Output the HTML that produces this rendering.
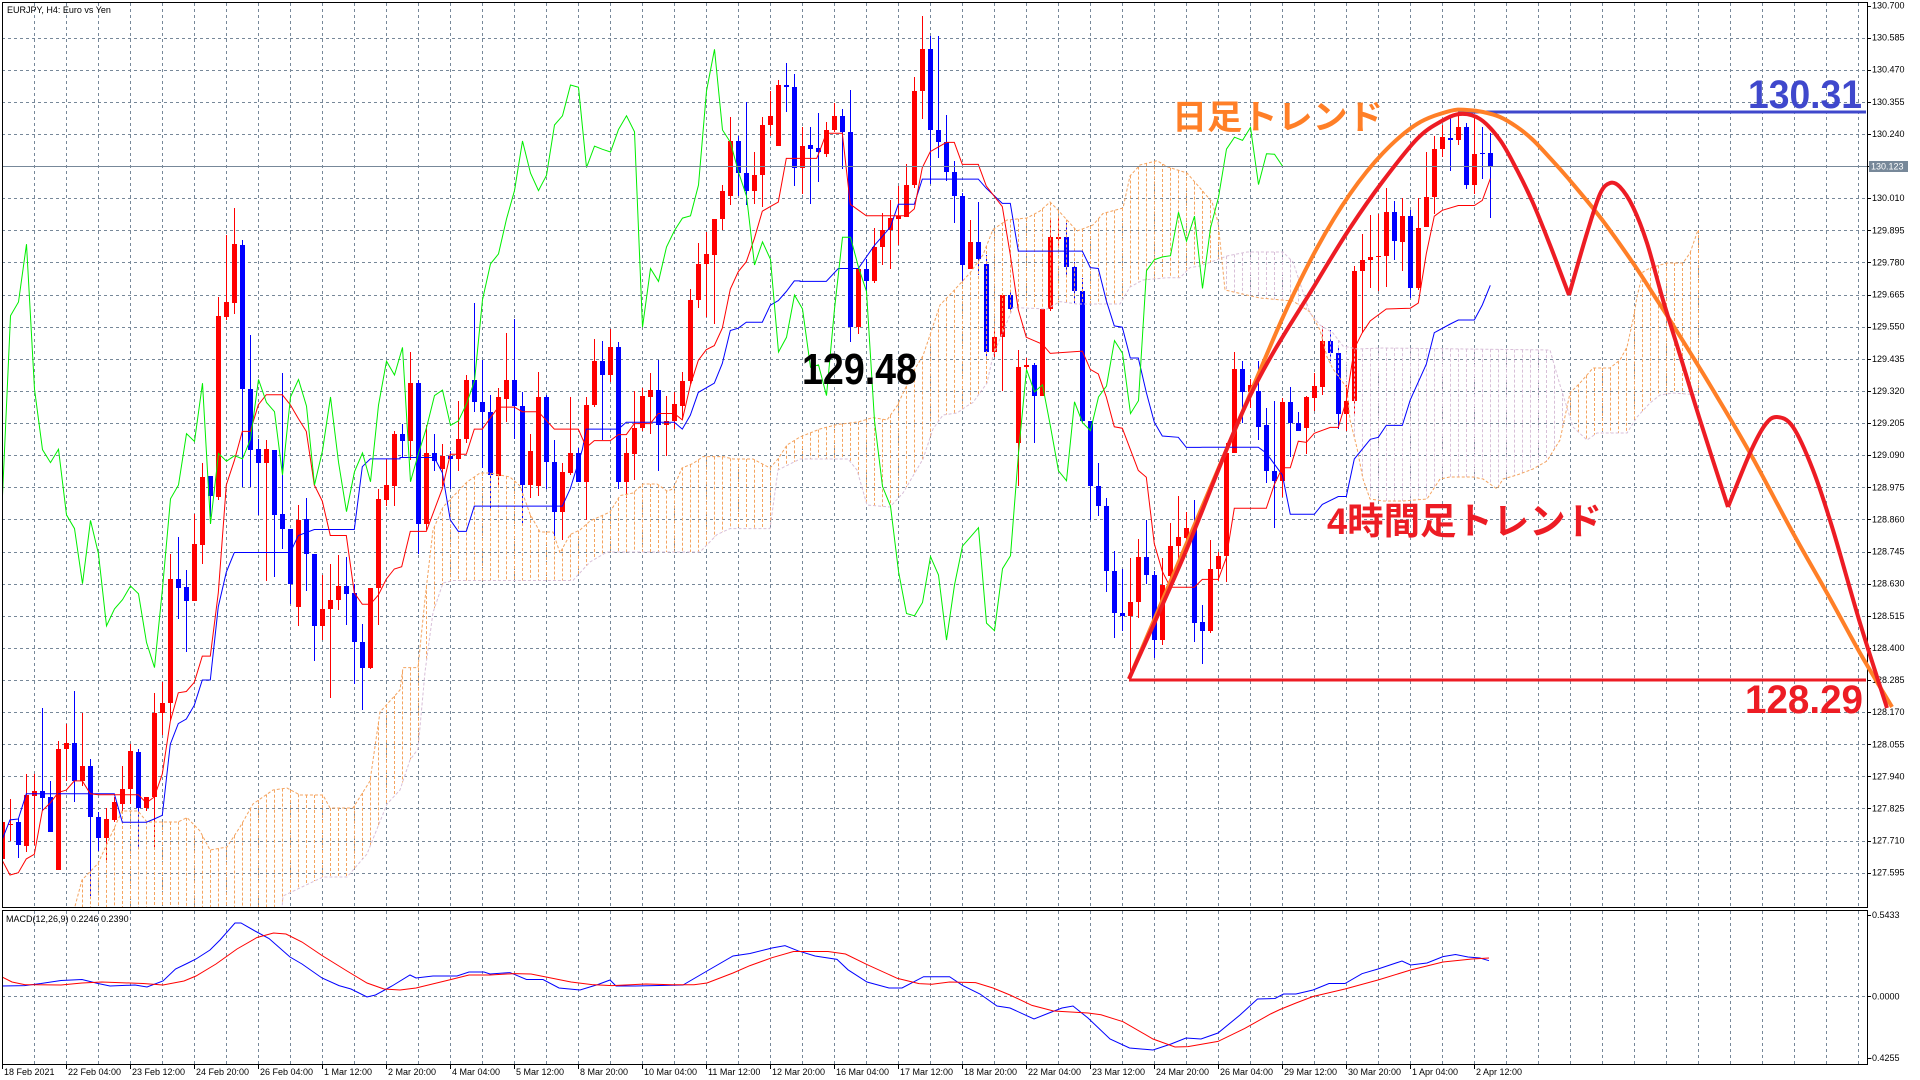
<!DOCTYPE html>
<html><head><meta charset="utf-8"><style>
html,body{margin:0;padding:0;background:#fff;width:1920px;height:1080px;overflow:hidden}
svg{display:block}
.s{font-family:"Liberation Sans",Arial,sans-serif;font-size:9px;fill:#000}
</style></head><body>
<svg id="c" width="1920" height="1080" xmlns="http://www.w3.org/2000/svg">
<defs>
<clipPath id="mc"><rect x="2" y="2" width="1865" height="905"/></clipPath>
<clipPath id="md"><rect x="2" y="910" width="1865" height="154"/></clipPath>
</defs>
<rect x="0" y="0" width="1920" height="1080" fill="#fff"/>
<g id="grid"></g>
<g id="cand" clip-path="url(#mc)" shape-rendering="crispEdges"></g>
<g id="ind" clip-path="url(#mc)"></g>
<g id="macd" clip-path="url(#md)"></g>
<line x1="2" y1="166.5" x2="1867" y2="166.5" stroke="#778899" stroke-width="1"/>
<g fill="none" stroke="#000" stroke-width="1" shape-rendering="crispEdges">
<path d="M2.5 2.5H1867.5V907.5H2.5Z"/>
<path d="M2.5 910.5H1867.5V1064.5H2.5Z"/>
</g>
<g id="ticks" stroke="#000" stroke-width="1" shape-rendering="crispEdges"></g>
<text class="s" x="7" y="13">EURJPY, H4:  Euro vs Yen</text>
<text class="s" x="6" y="922">MACD(12,26,9) 0.2246 0.2390</text>
<g class="s">
<text class="s" x="1872" y="8.5">130.700</text>
<text class="s" x="1872" y="40.6">130.585</text>
<text class="s" x="1872" y="72.7">130.470</text>
<text class="s" x="1872" y="104.9">130.355</text>
<text class="s" x="1872" y="137">130.240</text>
<text class="s" x="1872" y="201.2">130.010</text>
<text class="s" x="1872" y="233.3">129.895</text>
<text class="s" x="1872" y="265.5">129.780</text>
<text class="s" x="1872" y="297.6">129.665</text>
<text class="s" x="1872" y="329.7">129.550</text>
<text class="s" x="1872" y="361.8">129.435</text>
<text class="s" x="1872" y="393.9">129.320</text>
<text class="s" x="1872" y="426.1">129.205</text>
<text class="s" x="1872" y="458.2">129.090</text>
<text class="s" x="1872" y="490.3">128.975</text>
<text class="s" x="1872" y="522.4">128.860</text>
<text class="s" x="1872" y="554.5">128.745</text>
<text class="s" x="1872" y="586.7">128.630</text>
<text class="s" x="1872" y="618.8">128.515</text>
<text class="s" x="1872" y="650.9">128.400</text>
<text class="s" x="1872" y="683">128.285</text>
<text class="s" x="1872" y="715.1">128.170</text>
<text class="s" x="1872" y="747.3">128.055</text>
<text class="s" x="1872" y="779.4">127.940</text>
<text class="s" x="1872" y="811.5">127.825</text>
<text class="s" x="1872" y="843.6">127.710</text>
<text class="s" x="1872" y="875.7">127.595</text>
<text class="s" x="1872" y="918">0.5433</text>
<text class="s" x="1872" y="999.5">0.0000</text>
<text class="s" x="1869" y="1061">-0.4255</text>
</g>
<rect x="1869" y="161" width="39" height="11" fill="#778899"/>
<text class="s" x="1871" y="169.5" style="fill:#fff">130.123</text>
<g>
<text class="s" x="4" y="1075">18 Feb 2021</text>
<text class="s" x="68" y="1075">22 Feb 04:00</text>
<text class="s" x="132" y="1075">23 Feb 12:00</text>
<text class="s" x="196" y="1075">24 Feb 20:00</text>
<text class="s" x="260" y="1075">26 Feb 04:00</text>
<text class="s" x="324" y="1075">1 Mar 12:00</text>
<text class="s" x="388" y="1075">2 Mar 20:00</text>
<text class="s" x="452" y="1075">4 Mar 04:00</text>
<text class="s" x="516" y="1075">5 Mar 12:00</text>
<text class="s" x="580" y="1075">8 Mar 20:00</text>
<text class="s" x="644" y="1075">10 Mar 04:00</text>
<text class="s" x="708" y="1075">11 Mar 12:00</text>
<text class="s" x="772" y="1075">12 Mar 20:00</text>
<text class="s" x="836" y="1075">16 Mar 04:00</text>
<text class="s" x="900" y="1075">17 Mar 12:00</text>
<text class="s" x="964" y="1075">18 Mar 20:00</text>
<text class="s" x="1028" y="1075">22 Mar 04:00</text>
<text class="s" x="1092" y="1075">23 Mar 12:00</text>
<text class="s" x="1156" y="1075">24 Mar 20:00</text>
<text class="s" x="1220" y="1075">26 Mar 04:00</text>
<text class="s" x="1284" y="1075">29 Mar 12:00</text>
<text class="s" x="1348" y="1075">30 Mar 20:00</text>
<text class="s" x="1412" y="1075">1 Apr 04:00</text>
<text class="s" x="1476" y="1075">2 Apr 12:00</text>
</g>
<g id="trend"></g>
<text x="802" y="384" font-family="Liberation Sans, Arial, sans-serif" font-weight="bold" font-size="44" fill="#000" textLength="115" lengthAdjust="spacingAndGlyphs">129.48</text>
<text x="1748" y="108" font-family="Liberation Sans, Arial, sans-serif" font-weight="bold" font-size="40" fill="#3f48cc" textLength="114" lengthAdjust="spacingAndGlyphs">130.31</text>
<text x="1745" y="713" font-family="Liberation Sans, Arial, sans-serif" font-weight="bold" font-size="40" fill="#ed1c24" textLength="118" lengthAdjust="spacingAndGlyphs">128.29</text>
<text x="1172" y="129" font-family="Liberation Sans, Noto Sans CJK JP, sans-serif" font-weight="bold" font-size="34" fill="#ff7f27" textLength="211" lengthAdjust="spacingAndGlyphs">日足トレンド</text>
<text x="1327" y="534" font-family="Liberation Sans, Noto Sans CJK JP, sans-serif" font-weight="bold" font-size="37" fill="#ed1c24" textLength="275" lengthAdjust="spacingAndGlyphs">4時間足トレンド</text>
</svg>
<script>
(function(){
const NS='http://www.w3.org/2000/svg';
function el(p,t,a){const e=document.createElementNS(NS,t);for(const k in a)e.setAttribute(k,a[k]);p.appendChild(e);return e;}
const G=id=>document.getElementById(id);
// grid
let d='';
for(let i=1;i<=27;i++){const y=Math.round(5.5+32.12*i)+0.5;d+='M2 '+y+'H1867';}
d+='M2 996.5H1867';
for(let k=0;k<=57;k++){const x=34+32*k+0.5;d+='M'+x+' 3V907M'+x+' 911V1064';}
el(G('grid'),'path',{d:d,stroke:'#778899','stroke-width':1,'stroke-dasharray':'3,3',fill:'none','shape-rendering':'crispEdges'});
// ticks
let t='';
for(let i=0;i<=27;i++){const y=Math.round(5.5+32.12*i)+0.5;t+='M1867 '+y+'H1871';}
t+='M1867 915.5H1871M1867 996.5H1871M1867 1058.5H1871';
for(let i=0;i<24;i++){const x=(i==0?2:66+64*(i-1))+0.5;t+='M'+x+' 1064V1069';}
el(G('ticks'),'path',{d:t,fill:'none'});
// candles
const c5=[[1,1400,1480,1400,1480],[1,1403,1407,1350,1440],[0,1400,1450,1390,1478],[1,1340,1452,1295,1465],[1,1333,1342,1295,1450],[0,1333,1347,1152,1375],[0,1345,1422,1310,1422],[1,1240,1505,1222,1505],[1,1228,1240,1185,1310],[0,1228,1310,1115,1355],[1,1278,1310,1162,1322],[0,1278,1388,1262,1560],[0,1388,1435,1378,1462],[1,1392,1435,1370,1490],[1,1355,1395,1345,1400],[1,1327,1360,1278,1375],[1,1245,1328,1230,1360],[0,1248,1370,1240,1455],[1,1345,1370,1345,1375],[1,1162,1345,1118,1455],[1,1140,1162,1095,1210],[1,870,1140,815,1180],[0,870,890,778,958],[0,888,918,850,1030],[1,793,918,728,918],[1,647,795,617,838],[0,646,688,646,735],[1,296,690,255,698],[1,266,298,120,306],[1,140,268,62,293],[0,142,456,130,670],[0,456,588,338,670],[0,587,616,565,730],[1,587,616,567,875],[0,588,730,588,865],[0,728,760,420,805],[0,760,880,760,925],[1,742,930,708,972],[0,740,815,693,895],[0,815,972,815,1048],[1,935,972,862,1002],[1,915,935,838,1130],[1,885,915,818,938],[0,885,902,822,970],[0,900,1008,880,1098],[0,1008,1063,968,1155],[1,890,1063,890,1065],[1,695,890,673,970],[1,665,697,608,710],[1,553,668,548,710]];
const c6=[[0,880,897,858,930],[1,770,895,703,938],[0,770,1077,762,1142],[1,923,1077,862,1090],[0,923,940,880,962],[1,928,958,903,995],[0,928,935,918,1000],[1,892,935,808,962],[1,762,892,752,900],[0,762,812,595,832],[0,812,832,720,955],[0,832,970,795,1045],[1,800,972,780,998],[1,762,805,660,855],[0,762,820,630,892],[0,820,992,790,1075],[1,917,992,880,1020],[1,800,995,745,1015],[0,800,942,795,1000],[0,942,1050,893,1112],[1,963,1050,945,1112],[1,922,965,800,970],[0,922,985,912,985],[1,818,985,800,1068],[1,722,818,673,822],[0,722,752,677,893],[1,692,752,652,768],[0,692,985,680,1000],[1,923,985,890,1020],[1,867,925,787,982],[1,797,867,780,875],[1,785,800,748,880],[0,785,862,720,962],[1,852,862,798,928],[1,815,852,790,870],[1,765,820,745,848],[1,588,765,565,772],[1,510,588,465,605],[1,488,510,440,625],[1,412,490,412,640],[1,350,412,338,437],[1,242,362,190,382],[0,242,312,230,362],[0,312,350,158,382],[1,317,350,265,380],[1,207,317,190,385],[1,187,207,132,230],[1,120,252,108,252],[0,120,125,73,178],[0,125,300,97,340]];
const c7=[[1,253,300,212,357],[0,250,260,212,380],[0,258,266,182,332],[1,217,270,200,277],[1,187,217,160,222],[0,187,222,172,302],[0,222,648,130,680],[1,520,648,520,662],[0,522,548,500,570],[1,473,548,432,552],[1,437,473,400,512],[1,410,437,370,522],[1,405,412,340,468],[1,338,408,292,408],[1,133,338,103,345],[1,42,133,-30,195],[0,42,218,12,335],[0,218,245,12,280],[0,245,310,185,330],[0,310,362,285,420],[0,362,512,355,550],[1,462,520,415,520],[0,462,500,375,535],[0,510,702,490,712],[1,670,702,650,712],[1,578,670,578,787],[0,578,608,572,610],[1,735,900,697,995],[1,730,735,715,740],[0,730,797,725,900],[1,608,797,608,797],[1,452,608,415,612],[1,452,456,410,475],[0,452,517,420,535],[0,517,570,505,595],[0,570,852,540,855],[0,852,995,852,1068],[0,995,1038,945,1060],[0,1038,1180,1020,1225],[0,1180,1272,1135,1325],[0,1272,1277,1175,1310],[1,1248,1277,1150,1415],[1,1148,1248,1110,1282],[0,1148,1188,1068,1208],[0,1188,1330,1180,1368],[1,1210,1330,1150,1340],[1,1125,1190,1075,1195],[1,1105,1125,1015,1155],[1,1085,1107,1050,1115],[0,1088,1293,1025,1335]];
const c8=[[0,1372,1395,1330,1480],[1,1238,1395,1165,1400],[1,1205,1238,1195,1270],[1,945,1205,920,1272],[1,733,945,688,945],[0,733,790,712,870],[1,772,790,758,832],[0,787,878,712,912],[0,875,990,830,1020],[0,990,1015,812,1135],[1,815,1015,805,1055],[0,815,868,778,955],[0,868,888,840,890],[1,803,882,800,948],[1,775,805,742,838],[1,660,778,622,798],[0,660,692,632,712],[0,692,845,680,885],[1,812,845,772,888],[1,483,812,472,850],[1,455,485,390,640],[1,448,456,342,528],[1,445,448,340,535],[1,335,445,273,525],[0,335,408,307,455],[1,345,410,300,485],[0,345,528,330,552],[1,375,528,298,532],[1,297,372,183,372],[1,175,297,143,340],[1,145,175,115,195],[0,148,153,95,230],[1,120,152,90,165],[0,120,265,108,275],[1,187,265,90,290],[0,185,188,120,250],[0,185,218,135,350]];
const T5=z=>180+z/2.18,T6=z=>30+z/2.18,T8=z=>80+z/2.533;
const C=[];
function add(a,T){a.forEach(r=>C.push([r[0],T(r[1]),T(r[2]),T(r[3]),T(r[4])]));}
add(c5,T5);add(c6,T6);add(c7,T6);add(c8,T8);
const cg=G('cand');const close=[];
C.forEach((c,k)=>{const cx=8*k+2;const col=c[0]?'#ff0000':'#0000ff';
 const wt=Math.round(c[3]),wb=Math.round(c[4]),bt=Math.round(c[1]),bb=Math.round(c[2]);
 el(cg,'rect',{x:cx,y:wt,width:1,height:Math.max(1,wb-wt),fill:col});
 el(cg,'rect',{x:cx-2,y:bt,width:5,height:Math.max(1,bb-bt),fill:col});
 close.push(c[0]?c[1]:c[2]);});
const ig=G('ind');
// cloud
const A=[[0,1000],[60,1000],[74,910],[82,880],[98,863.5],[122,811],[138,811],[147,822],[178,822],[187,817.6],[200,831],[210,850],[227,847],[240,827],[253,804],[273,790],[287,788],[300,795],[323,795],[330,808],[353,808],[370,781],[380,712],[400,690],[403,667.6],[418,667.6],[425,599],[433,530],[443,507],[467,482],[480,473],[490,473],[510,477],[520,486],[530,514],[540,532],[553,532],[560,553],[570,534.6],[580,530],[590,521],[610,512],[620,495.6],[633,493],[643,484],[657,484],[667,491],[673,489],[682,468],[693,463.5],[703,456.6],[723,456.6],[733,459],[753,459],[770,468],[778,459],[787,445],[800,437],[820,429],[837,424.5],[858,422],[873,417.6],[887,420],[897,406],[913,372],[923,355.7],[930,335],[940,305],[953,291.5],[970,273],[983,254.8],[993,229.5],[1007,220],[1027,218],[1040,211],[1050,202],[1057,209],[1077,231],[1093,225],[1103,213.5],[1123,208],[1130,176],[1140,165],[1157,160.7],[1167,166.7],[1187,173],[1200,188],[1212,202],[1218,222],[1225,290],[1260,298],[1293,301],[1310,312],[1320,330],[1327,357],[1333,369],[1347,388],[1350,420],[1357,448],[1363,479],[1370,499],[1383,501],[1403,501],[1427,499],[1440,479],[1450,477],[1473,477],[1483,479],[1497,489],[1503,479],[1517,475],[1533,469],[1547,461],[1560,440],[1570,393],[1580,383],[1593,368],[1610,368],[1620,360],[1627,347],[1633,320],[1637,297],[1643,272],[1650,268],[1667,263],[1683,263],[1690,253],[1698,230]];
const B=[[0,1000],[275,1000],[283,896],[323,877],[347,877],[367,854],[387,804],[400,790],[410,760],[418,749],[425,672],[433,612.6],[443,583],[453,580.5],[573,580.5],[577,576],[590,562],[607,552],[700,552],[717,534.6],[730,528.6],[770,528.6],[778,470],[800,459],[848,459],[857,470],[867,505],[890,507],[903,493],[923,459],[933,429],[943,415],[957,413],[967,406],[973,402.5],[987,383],[993,355.7],[1013,307.5],[1047,309],[1060,301.6],[1077,304],[1120,304],[1130,287],[1143,280],[1167,277.7],[1180,277.7],[1190,267.6],[1200,266],[1227,256],[1247,252],[1283,252],[1293,262],[1310,313],[1320,325],[1333,333],[1343,346],[1357,349],[1383,348],[1550,350],[1560,385],[1573,427],[1587,440],[1597,433],[1627,433],[1637,417],[1650,403],[1660,395],[1673,393],[1698,395]];
function interp(P,x){if(x<=P[0][0])return P[0][1];for(let i=1;i<P.length;i++){if(x<=P[i][0]){const a=P[i-1],b=P[i];return a[1]+(b[1]-a[1])*(x-a[0])/(b[0]-a[0]);}}return P[P.length-1][1];}
for(let k=8;k<=212;k++){const x=8*k+2.5;if(x>1699)break;const a=interp(A,x),b=interp(B,x);
 el(ig,'line',{x1:x,y1:Math.min(a,b),x2:x,y2:Math.max(a,b),stroke:a<b?'#F4A460':'#D8BFD8','stroke-width':1,'stroke-dasharray':'3,2'});}
const pts=P=>P.map(p=>p[0].toFixed(1)+','+p[1].toFixed(1)).join(' ');
el(ig,'polyline',{points:pts(A),fill:'none',stroke:'#F4A460','stroke-width':1,'stroke-dasharray':'3,2'});
el(ig,'polyline',{points:pts(B),fill:'none',stroke:'#D8BFD8','stroke-width':1,'stroke-dasharray':'3,2'});
// tenkan/kijun
const conv=(a,x0,T)=>a.map(p=>[x0+p[0]/3,T(p[1])]);
const t5=[[8,1485],[30,1515],[55,1510],[79,1480],[103,1470],[127,1375],[151,1358],[175,1335],[199,1330],[223,1310],[247,1310],[271,1338],[295,1340],[415,1340],[439,1358],[463,1345],[487,1295],[511,1180],[535,1118],[559,1115],[583,1095],[607,1038],[631,1038],[655,900],[679,665],[703,612],[727,548],[751,548],[775,490],[799,468],[847,468],[871,490],[895,520],[919,548],[943,665],[967,700],[991,775],[1039,775],[1063,900],[1087,925],[1111,925],[1135,905],[1159,870],[1183,848]];
const t6=[[5,1170],[31,1093],[79,1093],[127,1000],[151,925],[199,925],[223,870],[247,870],[295,822],[343,822],[367,832],[415,832],[463,870],[535,870],[559,910],[583,895],[631,895],[655,882],[679,882],[703,858],[751,858],[775,836],[823,836],[847,850],[871,775],[895,720],[919,697],[943,688],[967,650],[991,565],[1015,527],[1039,505],[1063,455],[1087,395],[1111,385],[1135,375],[1159,280],[1200,280]];
const t7=[[0,280],[50,280],[60,262],[79,225],[127,225],[151,380],[199,405],[319,405],[343,390],[367,300],[391,265],[439,245],[463,245],[487,293],[535,293],[559,340],[607,385],[631,490],[655,610],[679,670],[727,685],[751,705],[847,700],[871,740],[895,750],[919,800],[943,865],[967,868],[1015,960],[1039,975],[1063,1120],[1087,1180],[1111,1215],[1183,1215]];
const t8=[[133,1285],[157,1265],[205,1265],[229,1210],[253,1085],[349,1085],[373,1025],[397,982],[421,982],[445,915],[469,918],[493,895],[541,880],[565,880],[589,812],[613,680],[637,640],[661,610],[709,580],[781,578],[805,565],[829,440],[853,345],[877,330],[925,318],[973,318],[997,305],[1021,250]];
const k5=[[8,1435],[30,1395],[55,1393],[79,1338],[343,1338],[367,1400],[439,1400],[463,1393],[487,1385],[511,1230],[535,1185],[559,1175],[583,1145],[607,1090],[631,1090],[655,930],[679,855],[703,812],[871,812],[895,775],[943,762],[1063,762],[1087,625],[1111,608],[1200,608]];
const k6=[[0,932],[103,932],[127,965],[151,1068],[175,1093],[199,1093],[223,1038],[487,1038],[511,1000],[547,915],[559,870],[655,870],[679,855],[823,855],[847,870],[871,840],[895,790],[943,770],[967,727],[991,655],[1015,650],[1039,637],[1087,637],[1111,600],[1135,590],[1159,570],[1183,547],[1200,547]];
const k7=[[0,548],[79,548],[115,520],[175,520],[223,470],[271,430],[295,380],[343,380],[367,325],[535,325],[559,345],[607,378],[631,378],[655,482],[847,482],[871,518],[895,520],[919,590],[943,645],[967,648],[991,715],[1015,715],[1039,790],[1063,855],[1087,885],[1135,888],[1159,910],[1200,910]];
const k8=[[157,930],[325,930],[349,945],[397,1000],[421,1100],[493,1100],[517,1075],[565,1055],[589,1055],[613,960],[661,910],[685,905],[709,875],[757,875],[781,810],[829,720],[853,640],[901,618],[925,608],[973,608],[997,570],[1021,520]];
const TEN=conv(t5,0,T5).concat(conv(t6,400,T6),conv(t7,800,T6),conv(t8,1150,T8));
const KIJ=conv(k5,0,T5).concat(conv(k6,400,T6),conv(k7,800,T6),conv(k8,1150,T8));
el(ig,'polyline',{points:pts(KIJ),fill:'none',stroke:'#0000ff','stroke-width':1});
el(ig,'polyline',{points:pts(TEN),fill:'none',stroke:'#ff0000','stroke-width':1});
const CH=[];for(let k=0;k+26<close.length;k++)CH.push([8*k+2.5,close[k+26]]);
el(ig,'polyline',{points:pts(CH),fill:'none',stroke:'#00ee00','stroke-width':1});
// MACD
const MB=[[2,986],[24.5,985.6],[41,983.5],[61,980.5],[82,979.5],[98,983.5],[110,986],[135,985],[147,987],[163,981],[175.5,969],[188,963],[196,959],[210,950],[220,940],[235,923],[241,923],[255,931],[269,938.5],[290,957],[302,964],[322,978],[339,985.6],[351,989],[367,997],[375.5,995],[392,986],[410,975],[416,978],[433,976],[457,976],[469,972],[484,972],[490,974],[510,972.6],[526.5,979.5],[543,979.5],[559,988],[580,990],[598,984.5],[610,980],[616,986],[633,986],[683,985],[707,971],[733,956],[750,953.5],[772,948],[785,945.6],[798,950.8],[815,956],[837,959.4],[848,969.8],[867,982],[889,988],[902,988],[923.6,976.7],[949.6,976.7],[962.6,985.4],[980,994],[997,1006],[1010,1008],[1034,1019],[1049,1013],[1062,1008],[1073,1006],[1088,1018],[1110,1039],[1129.5,1048],[1153,1050],[1171,1044],[1186,1038],[1201,1039],[1218,1033],[1240,1015],[1257.5,999],[1275,998.5],[1283.5,994],[1296,994],[1313,990],[1329,983.5],[1345,983.5],[1362,973.7],[1378,969],[1402,961],[1410.6,965],[1427,963],[1443,956.6],[1455.5,954.5],[1468,957],[1480,958],[1489,960.7]];
const MR=[[2,977],[12,982],[24.5,984.6],[61,985],[82,983],[102,982],[143,983.5],[163,985],[184,981],[196,976],[216,964],[237,949],[257,937.5],[273.5,933],[286,934],[302,942],[322,955.5],[347,971],[367,983],[384,989],[400,990],[416,988],[449,980],[469,975],[490,975],[514,973.6],[531,974],[551,978],[571,982],[592,984.6],[612,985.6],[646,984],[672,984.7],[694,984.7],[707,983],[733,973],[750,965.6],[772,957.7],[793.5,951.5],[828,951.5],[845.5,954],[867,964.6],[897.5,978.4],[919,983.6],[932,984.3],[949.6,982],[975.6,982.6],[993,988],[1010,995],[1032,1005.4],[1053.6,1011],[1088,1013],[1101,1014.8],[1123,1021.7],[1153,1039],[1175,1047],[1188,1046.6],[1218,1041.4],[1244.5,1028.6],[1270.5,1014],[1280,1009.5],[1296,1003],[1313,996.5],[1345,989],[1378,980],[1410.6,970],[1443,962],[1472,959],[1489,958]];
const mg=G('macd');
el(mg,'polyline',{points:pts(MB),fill:'none',stroke:'#0000ff','stroke-width':1});
el(mg,'polyline',{points:pts(MR),fill:'none',stroke:'#ff0000','stroke-width':1});
// trend lines
function cr(P){let s='M'+P[0][0]+' '+P[0][1];for(let i=0;i<P.length-1;i++){const p0=P[i-1]||P[i],p1=P[i],p2=P[i+1],p3=P[i+2]||p2;
 s+='C'+(p1[0]+(p2[0]-p0[0])/6).toFixed(1)+' '+(p1[1]+(p2[1]-p0[1])/6).toFixed(1)+' '+(p2[0]-(p3[0]-p1[0])/6).toFixed(1)+' '+(p2[1]-(p3[1]-p1[1])/6).toFixed(1)+' '+p2[0]+' '+p2[1];}return s;}
const tg=G('trend');
el(tg,'line',{x1:1129,y1:680,x2:1866,y2:680,stroke:'#ed1c24','stroke-width':3});
el(tg,'line',{x1:1458,y1:112,x2:1866,y2:112,stroke:'#3f48cc','stroke-width':3});
const OR=[[1129,679],[1200,512],[1240,418],[1283,317],[1317,248],[1350,194],[1383,153],[1417,124],[1450,111],[1467,110],[1483,112],[1500,117],[1517,127],[1533,140],[1550,158],[1567,177],[1600,217],[1633,263],[1657,300],[1673,325],[1710,385],[1750,453],[1793,533],[1827,593],[1860,653],[1892,707]];
const R1=[[1129,679],[1183,558],[1250,396],[1317,281.5],[1350,228],[1383,181],[1417,139],[1440,122],[1460,114],[1480,119],[1500,140],[1517,170],[1533,203],[1550,245],[1569,295]];
const R2=[[1569,295],[1587,233],[1600,194],[1610,183],[1620,187],[1633,207],[1647,243],[1663,300],[1680,355],[1700,420],[1728,507]];
const R3=[[1728,507],[1750,453],[1765,425],[1777,417],[1793,427],[1813,470],[1833,530],[1860,623],[1887,708]];
el(tg,'path',{d:cr(OR),fill:'none',stroke:'#ff7f27','stroke-width':4,'stroke-linejoin':'round'});
[R1,R2,R3].forEach(R=>el(tg,'path',{d:cr(R),fill:'none',stroke:'#ed1c24','stroke-width':4,'stroke-linejoin':'round'}));
})();
</script>
</body></html>
